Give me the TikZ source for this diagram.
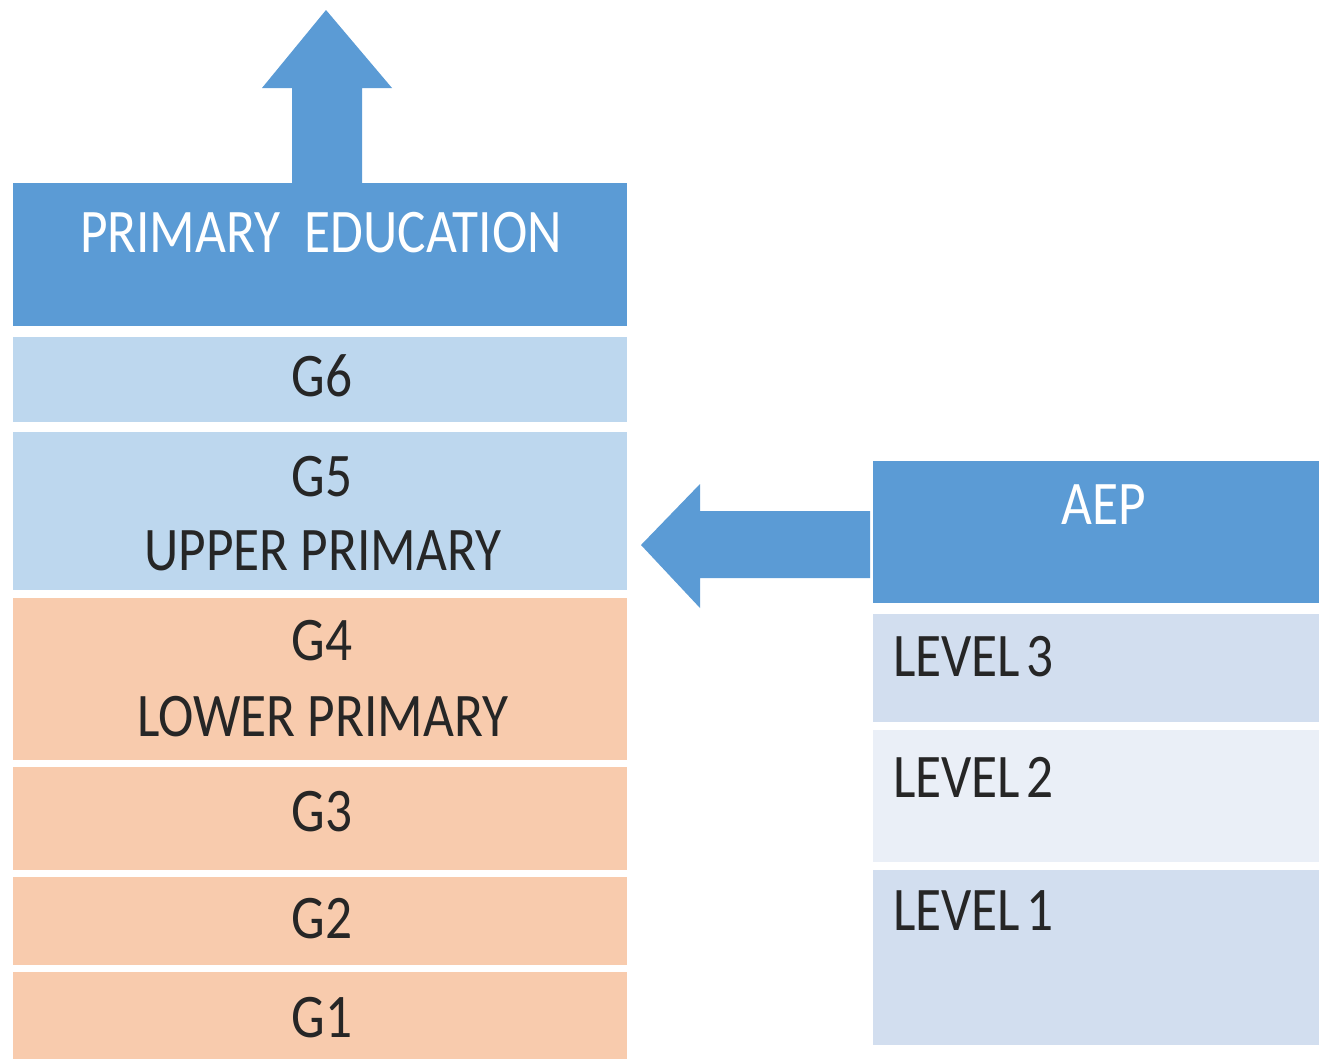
\documentclass[tikz,border=0pt]{standalone}
\usepackage{fontspec}
\setmainfont{Carlito}[FakeStretch=0.86]
\usetikzlibrary{calc}
\definecolor{hdrblue}{HTML}{5B9BD5}
\definecolor{ltblue}{HTML}{BDD7EE}
\definecolor{peach}{HTML}{F8CBAD}
\definecolor{lvldark}{HTML}{D2DEEF}
\definecolor{lvllight}{HTML}{EAEFF7}
\definecolor{txtdark}{HTML}{262626}
\tikzset{
  box/.style={draw=none, inner sep=0pt, anchor=north west, rectangle},
  lbl/.style={inner sep=0pt, anchor=base, text=txtdark, font=\fontsize{62}{74}\selectfont},
  wlbl/.style={lbl, text=white},
  llbl/.style={lbl, anchor=base west},
  bigarrow/.style={fill=hdrblue, draw=none}
}
\begin{document}
\begin{tikzpicture}[x=1pt, y=-1pt]
\useasboundingbox (0,0) rectangle (1319,1058);
% left column
\node[box, fill=hdrblue, minimum width=614pt, minimum height=143pt] (hdr) at (13,183) {};
\node[box, fill=ltblue, minimum width=614pt, minimum height=85pt] (g6) at (13,337) {};
\node[box, fill=ltblue, minimum width=614pt, minimum height=158pt] (g5) at (13,432) {};
\node[box, fill=peach, minimum width=614pt, minimum height=162pt] (g4) at (13,598) {};
\node[box, fill=peach, minimum width=614pt, minimum height=103pt] (g3) at (13,767) {};
\node[box, fill=peach, minimum width=614pt, minimum height=88pt] (g2) at (13,877) {};
\node[box, fill=peach, minimum width=614pt, minimum height=90pt] (g1) at (13,972) {};
% right column
\node[box, fill=hdrblue, minimum width=450pt, minimum height=142pt] (aep) at (873,461) {};
\node[box, fill=lvldark, minimum width=450pt, minimum height=108pt] (l3) at (873,614) {};
\node[box, fill=lvllight, minimum width=450pt, minimum height=132pt] (l2) at (873,730) {};
\node[box, fill=lvldark, minimum width=450pt, minimum height=175pt] (l1) at (873,870) {};
% labels
\node[wlbl] (thdr) at (321,252) {PRIMARY\ \ EDUCATION};
\node[lbl] (tg6) at (322,396) {G6};
\node[lbl] (tg5) at (322,496) {G5};
\node[lbl] (tup) at (323,570) {UPPER PRIMARY};
\node[lbl] (tg4) at (322,660) {G4};
\node[lbl] (tlow) at (323,736) {LOWER PRIMARY};
\node[lbl] (tg3) at (322,831) {G3};
\node[lbl] (tg2) at (322,938) {G2};
\node[lbl] (tg1) at (322,1037) {G1};
\node[wlbl] (taep) at (1104,524) {AEP};
\node[llbl] (tl3) at (893,676) {LEVEL\hspace{6pt}3};
\node[llbl] (tl2) at (893,797) {LEVEL\hspace{6pt}2};
\node[llbl] (tl1) at (893,930) {LEVEL\hspace{6pt}1};
% up arrow from header
\coordinate (upend) at (326,10);
\fill[bigarrow] ($(hdr.north west)+(279,0)$) -- ++(0,-95) -- ++(-30,0) -- (upend) -- ($(hdr.north west)+(379,-95)$) -- ++(-30,0) -- ($(hdr.north west)+(349,0)$) -- cycle;
% left arrow from AEP to column
\coordinate (lefttip) at (641,545);
\fill[bigarrow] ($(aep.north west)+(-3,50)$) -- ++(0,67) -- (700,578) -- (700,608) -- (lefttip) -- (700,484) -- (700,511) -- cycle;
\end{tikzpicture}
\end{document}
